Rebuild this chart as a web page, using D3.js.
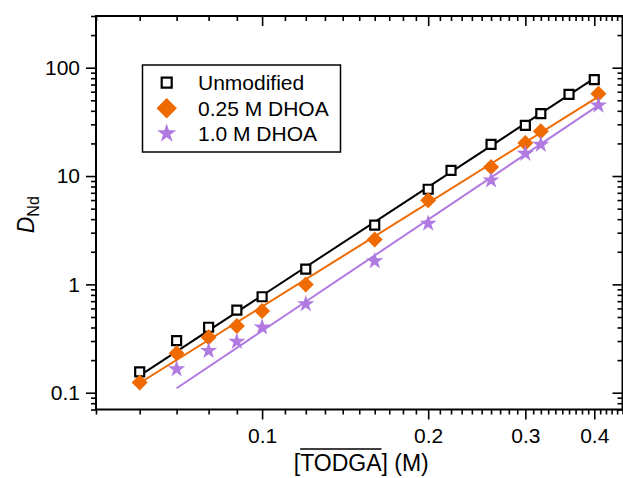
<!DOCTYPE html>
<html>
<head>
<meta charset="utf-8">
<script src="https://cdn.jsdelivr.net/npm/d3@7"></script>
<style>
  html, body { margin: 0; padding: 0; background: #fff; }
  svg { display: block; font-family: "Liberation Sans", Arial, Helvetica, sans-serif; }
</style>
</head>
<body>
<svg id="chart" width="623" height="478"></svg>
<script>
// Distribution ratio of Nd vs. extractant concentration (log-log)
const unmodX = [0.06, 0.07, 0.08, 0.09, 0.10, 0.12, 0.16, 0.20, 0.22, 0.26, 0.30, 0.32, 0.36, 0.40];
const unmodY = [0.156, 0.302, 0.402, 0.579, 0.769, 1.38, 3.52, 7.55, 11.3, 19.6, 29.4, 37.7, 56.7, 77.5];

const dhoa025X = [0.06, 0.07, 0.08, 0.09, 0.10, 0.12, 0.16, 0.20, 0.26, 0.30, 0.32, 0.407];
const dhoa025Y = [0.124, 0.231, 0.325, 0.413, 0.567, 1.0, 2.60, 5.98, 12.1, 20.2, 25.9, 57.6];

const dhoa1X = [0.07, 0.08, 0.09, 0.10, 0.12, 0.16, 0.20, 0.26, 0.30, 0.32, 0.407];
const dhoa1Y = [0.165, 0.244, 0.296, 0.402, 0.658, 1.64, 3.65, 9.15, 16.1, 19.5, 44.9];

// Linear fits on log-log axes (end points)
const unmodFitX = [0.06, 0.40];
const unmodFitY = [0.144, 79.7];
const dhoa025FitX = [0.06, 0.407];
const dhoa025FitY = [0.123, 54];
const dhoa1FitX = [0.07, 0.407];
const dhoa1FitY = [0.11, 44.9];

const seriesNames = ["Unmodified", "0.25 M DHOA", "1.0 M DHOA"];

const xTickValues = [0.1, 0.2, 0.3, 0.4];
const xTickLabels = ["0.1", "0.2", "0.3", "0.4"];
const yTickValues = [0.1, 1, 10, 100];
const yTickLabels = ["0.1", "1", "10", "100"];

const BLACK = "#000000", ORANGE = "#EF6A00", PURPLE = "#B07AE0";

const svg = d3.select("#chart");
const L = 96, R = 622.5, T = 16, B = 409.5;

const x = d3.scaleLog().domain([0.05, 0.45]).range([L, R]);
const y = d3.scaleLog().domain([0.07, 300]).range([B, T]);

// minor tick positions
const xMinor = d3.range(5, 46).map(i => i / 100).filter(v => !xTickValues.includes(v));
const yMinor = [];
[0.01, 0.1, 1, 10, 100].forEach(dec => {
  for (let k = 2; k <= 9; k++) {
    const v = +(dec * k).toPrecision(3);
    if (v >= 0.07 && v <= 300) yMinor.push(v);
  }
});

const tickStyle = g => {
  g.select(".domain").remove();
  g.selectAll(".tick line").attr("stroke", "#000").attr("stroke-width", 1.6);
};

// bottom axis (outward)
svg.append("g").attr("transform", `translate(0,${B})`)
  .call(d3.axisBottom(x).tickValues(xMinor).tickSize(5).tickFormat(""))
  .call(tickStyle);
svg.append("g").attr("transform", `translate(0,${B})`)
  .call(d3.axisBottom(x).tickValues(xTickValues).tickSize(10).tickPadding(9)
    .tickFormat((d, i) => xTickLabels[i]))
  .call(tickStyle)
  .call(g => g.selectAll("text").attr("font-size", 21).attr("fill", "#000")
    .attr("font-family", "Liberation Sans, Arial, sans-serif"));

// top axis (inward)
svg.append("g").attr("transform", `translate(0,${T})`)
  .call(d3.axisTop(x).tickValues(xMinor).tickSize(-5).tickFormat(""))
  .call(tickStyle);
svg.append("g").attr("transform", `translate(0,${T})`)
  .call(d3.axisTop(x).tickValues(xTickValues).tickSize(-10).tickFormat(""))
  .call(tickStyle);

// left axis (outward)
svg.append("g").attr("transform", `translate(${L},0)`)
  .call(d3.axisLeft(y).tickValues(yMinor).tickSize(5).tickFormat(""))
  .call(tickStyle);
svg.append("g").attr("transform", `translate(${L},0)`)
  .call(d3.axisLeft(y).tickValues(yTickValues).tickSize(10).tickPadding(6)
    .tickFormat((d, i) => yTickLabels[i]))
  .call(tickStyle)
  .call(g => g.selectAll("text").attr("font-size", 21).attr("fill", "#000")
    .attr("font-family", "Liberation Sans, Arial, sans-serif"));

// right axis (inward)
svg.append("g").attr("transform", `translate(${R},0)`)
  .call(d3.axisRight(y).tickValues(yMinor).tickSize(-5).tickFormat(""))
  .call(tickStyle);
svg.append("g").attr("transform", `translate(${R},0)`)
  .call(d3.axisRight(y).tickValues(yTickValues).tickSize(-10).tickFormat(""))
  .call(tickStyle);

// frame
svg.append("rect").attr("x", L).attr("y", T).attr("width", R - L).attr("height", B - T)
  .attr("fill", "none").attr("stroke", "#000").attr("stroke-width", 2);

// plot area
const plot = svg.append("g");
const line = d3.line().x(d => x(d[0])).y(d => y(d[1]));

const series = [
  { xs: unmodX, ys: unmodY, fx: unmodFitX, fy: unmodFitY, color: BLACK, shape: "square" },
  { xs: dhoa025X, ys: dhoa025Y, fx: dhoa025FitX, fy: dhoa025FitY, color: ORANGE, shape: "diamond" },
  { xs: dhoa1X, ys: dhoa1Y, fx: dhoa1FitX, fy: dhoa1FitY, color: PURPLE, shape: "star" }
];

function drawMarker(sel, shape, color, big) {
  if (shape === "square") {
    sel.append("path")
      .attr("d", d3.symbol(d3.symbolSquare, big ? 100 : 81)())
      .attr("fill", "#fff").attr("stroke", color).attr("stroke-width", 2.2);
  } else if (shape === "diamond") {
    sel.append("path")
      .attr("d", d3.symbol(d3.symbolSquare, big ? 210 : 128)())
      .attr("transform", "rotate(45)")
      .attr("fill", color).attr("stroke", "none");
  } else {
    sel.append("path")
      .attr("d", d3.symbol(d3.symbolStar, big ? 115 : 92)())
      .attr("fill", color).attr("stroke", "none");
  }
}

series.forEach(s => {
  plot.append("path")
    .datum(s.fx.map((v, i) => [v, s.fy[i]]))
    .attr("d", line)
    .attr("fill", "none").attr("stroke", s.color).attr("stroke-width", 2);
  const pts = s.xs.map((v, i) => [v, s.ys[i]]);
  plot.append("g").selectAll("g").data(pts).join("g")
    .attr("transform", d => `translate(${x(d[0])},${y(d[1])})`)
    .each(function () { drawMarker(d3.select(this), s.shape, s.color, false); });
});

// legend
const leg = svg.append("g");
leg.append("rect").attr("x", 142.5).attr("y", 65).attr("width", 198).attr("height", 87)
  .attr("fill", "#fff").attr("stroke", "#000").attr("stroke-width", 1.5);
const legRows = [82.7, 108.3, 133.5];
series.forEach((s, i) => {
  const g = leg.append("g").attr("transform", `translate(166.7,${legRows[i]})`);
  drawMarker(g, s.shape, s.color, true);
  leg.append("text").attr("x", 198).attr("y", legRows[i]).attr("dy", "0.36em")
    .attr("font-size", 21).attr("fill", "#000").text(seriesNames[i]);
});

// y title: D_Nd
const yt = svg.append("text")
  .attr("transform", `translate(34,${(T + B) / 2 + 2}) rotate(-90)`)
  .attr("text-anchor", "middle").attr("font-size", 23).attr("fill", "#000");
yt.append("tspan").attr("font-style", "italic").text("D");
yt.append("tspan").attr("font-size", 16).attr("dy", 5).text("Nd");

// x title: [TODGA] (M) with overline over TODGA
const xBase = 471;
const xt = svg.append("text")
  .attr("x", (L + R) / 2 + 2).attr("y", xBase)
  .attr("text-anchor", "middle").attr("font-size", 23).attr("fill", "#000");
xt.append("tspan").text("[");
const over = xt.append("tspan").text("TODGA");
xt.append("tspan").text("] (M)");
const n = over.node();
const start = n.getStartPositionOfChar(0);
const end = n.getEndPositionOfChar(4);
svg.append("line")
  .attr("x1", start.x).attr("x2", end.x)
  .attr("y1", xBase - 22).attr("y2", xBase - 22)
  .attr("stroke", "#000").attr("stroke-width", 1.6);
</script>
</body>
</html>
